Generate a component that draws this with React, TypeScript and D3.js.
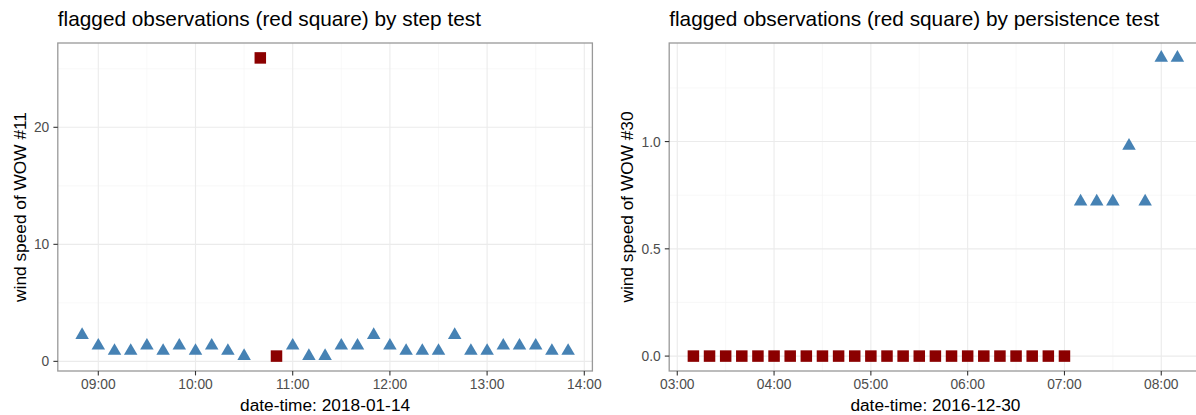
import React from "react";
import * as d3 from "d3";

// Step test: WOW station #11, 2018-01-14 (wind speed, m/s)
const stepDate = "2018-01-14";
const stepTimes = [
  "08:50", "09:00", "09:10", "09:20", "09:30", "09:40", "09:50",
  "10:00", "10:10", "10:20", "10:30", "10:40", "10:50",
  "11:00", "11:10", "11:20", "11:30", "11:40", "11:50",
  "12:00", "12:10", "12:20", "12:30", "12:40", "12:50",
  "13:00", "13:10", "13:20", "13:30", "13:40", "13:50",
];
const stepValues = [
  2.24, 1.34, 0.89, 0.89, 1.34, 0.89, 1.34,
  0.89, 1.34, 0.89, 0.45, 25.93, 0.45,
  1.34, 0.45, 0.45, 1.34, 1.34, 2.24,
  1.34, 0.89, 0.89, 0.89, 2.24, 0.89,
  0.89, 1.34, 1.34, 1.34, 0.89, 0.89,
];
const stepFlagged = [
  0, 0, 0, 0, 0, 0, 0,
  0, 0, 0, 0, 1, 1,
  0, 0, 0, 0, 0, 0,
  0, 0, 0, 0, 0, 0,
  0, 0, 0, 0, 0, 0,
];
const stepYTicks = [0, 10, 20];
const stepYMinor = [5, 15, 25];

// Persistence test: WOW station #30, 2016-12-30
const persistDate = "2016-12-30";
const persistTimes = [
  "03:10", "03:20", "03:30", "03:40", "03:50",
  "04:00", "04:10", "04:20", "04:30", "04:40", "04:50",
  "05:00", "05:10", "05:20", "05:30", "05:40", "05:50",
  "06:00", "06:10", "06:20", "06:30", "06:40", "06:50",
  "07:00", "07:10", "07:20", "07:30", "07:40", "07:50",
  "08:00", "08:10",
];
const persistValues = [
  0, 0, 0, 0, 0,
  0, 0, 0, 0, 0, 0,
  0, 0, 0, 0, 0, 0,
  0, 0, 0, 0, 0, 0,
  0, 0.72, 0.72, 0.72, 0.98, 0.72,
  1.39, 1.39,
];
const persistFlagged = [
  1, 1, 1, 1, 1,
  1, 1, 1, 1, 1, 1,
  1, 1, 1, 1, 1, 1,
  1, 1, 1, 1, 1, 1,
  1, 0, 0, 0, 0, 0,
  0, 0,
];
const persistYTicks = [0, 0.5, 1.0];
const persistYMinor = [0.25, 0.75, 1.25];

const W = 1196;
const H = 415;
const FONT = "'Liberation Sans', Arial, Helvetica, sans-serif";
const BLUE = "#4682B4";
const RED = "#8B0000";

type PanelProps = {
  x0: number;
  x1: number;
  title: string;
  yTitle: string;
  xTitle: string;
  date: string;
  times: string[];
  values: number[];
  flagged: number[];
  yTicks: number[];
  yMinor: number[];
  yFmt: (v: number) => string;
  yTitleX: number;
};

const TOP = 43;
const BOTTOM = 371;

function Panel(p: PanelProps) {
  const pts = p.times.map((t, i) => ({
    t: new Date(`${p.date}T${t}:00Z`),
    v: p.values[i],
    f: p.flagged[i] === 1,
  }));

  const tExt = d3.extent(pts, (d) => d.t.getTime()) as [number, number];
  const tPad = (tExt[1] - tExt[0]) * 0.05;
  const x = d3
    .scaleUtc()
    .domain([new Date(tExt[0] - tPad), new Date(tExt[1] + tPad)])
    .range([p.x0, p.x1]);

  const vExt = d3.extent(pts, (d) => d.v) as [number, number];
  const vPad = (vExt[1] - vExt[0]) * 0.05;
  const y = d3
    .scaleLinear()
    .domain([vExt[0] - vPad, vExt[1] + vPad])
    .range([BOTTOM, TOP]);

  const hourTicks = x.ticks(d3.utcHour.every(1)!);
  const halfTicks = x
    .ticks(d3.utcMinute.every(30)!)
    .filter((d) => d.getUTCMinutes() === 30);
  const fmt = d3.utcFormat("%H:%M");

  const side = 13.5;
  const tri = d3.symbol(d3.symbolTriangle, (side * side * Math.sqrt(3)) / 4)();
  const sq = 11.5;

  return (
    <g>
      {/* panel background */}
      <rect x={p.x0} y={TOP} width={p.x1 - p.x0} height={BOTTOM - TOP} fill="#fff" />
      {/* minor grid */}
      {p.yMinor.map((v) => (
        <line key={`ym${v}`} x1={p.x0} x2={p.x1} y1={y(v)} y2={y(v)} stroke="#F3F3F3" strokeWidth={0.6} />
      ))}
      {halfTicks.map((d) => (
        <line key={`xm${+d}`} x1={x(d)} x2={x(d)} y1={TOP} y2={BOTTOM} stroke="#F3F3F3" strokeWidth={0.6} />
      ))}
      {/* major grid */}
      {p.yTicks.map((v) => (
        <line key={`yg${v}`} x1={p.x0} x2={p.x1} y1={y(v)} y2={y(v)} stroke="#EBEBEB" strokeWidth={1.1} />
      ))}
      {hourTicks.map((d) => (
        <line key={`xg${+d}`} x1={x(d)} x2={x(d)} y1={TOP} y2={BOTTOM} stroke="#EBEBEB" strokeWidth={1.1} />
      ))}

      {/* observations */}
      {pts.map((d, i) =>
        d.f ? (
          <rect
            key={i}
            x={x(d.t) - sq / 2}
            y={y(d.v) - sq / 2}
            width={sq}
            height={sq}
            fill={RED}
          />
        ) : (
          <path
            key={i}
            d={tri as string}
            transform={`translate(${x(d.t)},${y(d.v)})`}
            fill={BLUE}
          />
        )
      )}

      {/* panel border */}
      <rect
        x={p.x0}
        y={TOP}
        width={p.x1 - p.x0}
        height={BOTTOM - TOP}
        fill="none"
        stroke="#999"
        strokeWidth={1.3}
      />

      {/* y axis */}
      {p.yTicks.map((v) => (
        <g key={`yt${v}`}>
          <line x1={p.x0 - 4.4} x2={p.x0} y1={y(v)} y2={y(v)} stroke="#333" strokeWidth={1.1} />
          <text
            x={p.x0 - 8.5}
            y={y(v)}
            dy="0.36em"
            textAnchor="end"
            fontSize={13.8}
            fill="#4D4D4D"
            fontFamily={FONT}
          >
            {p.yFmt(v)}
          </text>
        </g>
      ))}
      {/* x axis */}
      {hourTicks.map((d) => (
        <g key={`xt${+d}`}>
          <line x1={x(d)} x2={x(d)} y1={BOTTOM} y2={BOTTOM + 4.4} stroke="#333" strokeWidth={1.1} />
          <text
            x={x(d)}
            y={BOTTOM + 18}
            textAnchor="middle"
            fontSize={13.8}
            fill="#4D4D4D"
            fontFamily={FONT}
          >
            {fmt(d)}
          </text>
        </g>
      ))}

      {/* titles */}
      <text x={p.x0} y={26} fontSize={20.8} fill="#000" fontFamily={FONT}>
        {p.title}
      </text>
      <text
        x={(p.x0 + p.x1) / 2}
        y={411}
        textAnchor="middle"
        fontSize={17.3}
        fill="#000"
        fontFamily={FONT}
      >
        {p.xTitle}
      </text>
      <text
        transform={`translate(${p.yTitleX},${(TOP + BOTTOM) / 2}) rotate(-90)`}
        textAnchor="middle"
        fontSize={17.3}
        fill="#000"
        fontFamily={FONT}
      >
        {p.yTitle}
      </text>
    </g>
  );
}

export default function App() {
  return (
    <svg
      width={W}
      height={H}
      viewBox={`0 0 ${W} ${H}`}
      style={{ position: "absolute", left: 0, top: 0, display: "block", background: "#fff" }}
    >
      <rect width={W} height={H} fill="#fff" />
      <Panel
        x0={57.8}
        x1={592.4}
        title="flagged observations (red square) by step test"
        yTitle="wind speed of WOW #11"
        xTitle={`date-time: ${stepDate}`}
        date={stepDate}
        times={stepTimes}
        values={stepValues}
        flagged={stepFlagged}
        yTicks={stepYTicks}
        yMinor={stepYMinor}
        yFmt={(v) => d3.format("d")(v)}
        yTitleX={26}
      />
      <Panel
        x0={669.2}
        x1={1201.6}
        title="flagged observations (red square) by persistence test"
        yTitle="wind speed of WOW #30"
        xTitle={`date-time: ${persistDate}`}
        date={persistDate}
        times={persistTimes}
        values={persistValues}
        flagged={persistFlagged}
        yTicks={persistYTicks}
        yMinor={persistYMinor}
        yFmt={(v) => d3.format(".1f")(v)}
        yTitleX={633}
      />
    </svg>
  );
}
